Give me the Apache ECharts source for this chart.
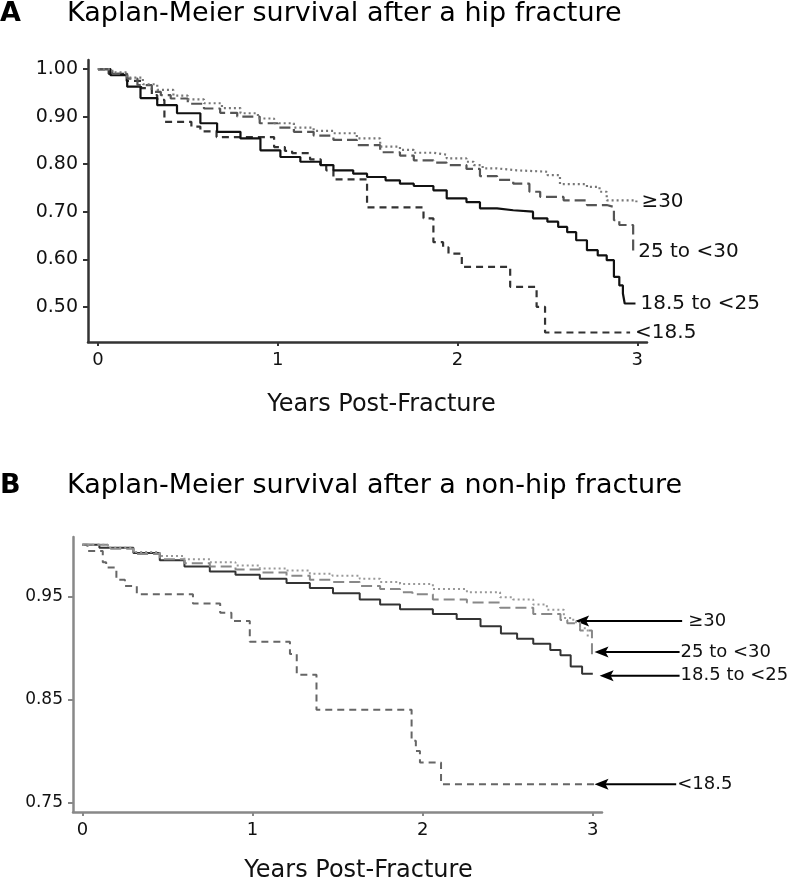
<!DOCTYPE html>
<html><head><meta charset="utf-8">
<script src="https://cdn.jsdelivr.net/npm/echarts@6/dist/echarts.min.js"></script>
<style>html,body{margin:0;padding:0;background:#fff}#c{width:791px;height:884px}</style>
</head><body><div id="c"></div><script>
// ---------- data (years post-fracture, survival probability) ----------
const seriesNames = ['<18.5', '18.5 to <25', '25 to <30', '≥30'];
const xTicks = [0, 1, 2, 3];
const yTicksA = [0.5, 0.6, 0.7, 0.8, 0.9, 1.0];
const yTicksB = [0.75, 0.85, 0.95];

// Panel A: hip fracture
const hipUnder185 = [[0,1],[0.06,0.99],[0.16,0.975],[0.24,0.96],[0.30,0.945],[0.33,0.935],[0.37,0.889],[0.52,0.879],[0.57,0.869],[0.66,0.857],[0.98,0.836],[1.04,0.828],[1.08,0.823],[1.18,0.81],[1.24,0.798],[1.27,0.787],[1.31,0.768],[1.497,0.709],[1.811,0.686],[1.866,0.636],[1.92,0.625],[1.95,0.612],[2.024,0.584],[2.293,0.542],[2.44,0.50],[2.487,0.446],[2.96,0.446]];
const hipNormal = [[0,1],[0.07,0.987],[0.163,0.963],[0.237,0.939],[0.33,0.924],[0.44,0.907],[0.57,0.886],[0.663,0.868],[0.793,0.854],[0.904,0.829],[1.015,0.815],[1.126,0.805],[1.237,0.798],[1.31,0.787],[1.42,0.78],[1.497,0.773],[1.60,0.766],[1.68,0.759],[1.757,0.754],[1.866,0.745],[1.94,0.728],[2.05,0.72],[2.125,0.707],[2.22,0.703],[2.31,0.70],[2.42,0.686],[2.50,0.679],[2.56,0.668],[2.61,0.657],[2.66,0.64],[2.72,0.619],[2.78,0.608],[2.83,0.598],[2.87,0.563],[2.90,0.545],[2.92,0.528],[2.93,0.507],[2.99,0.507]];
const hipOver = [[0,1],[0.08,0.99],[0.163,0.98],[0.22,0.966],[0.30,0.952],[0.35,0.945],[0.405,0.938],[0.50,0.927],[0.59,0.917],[0.68,0.908],[0.775,0.90],[0.90,0.886],[1.0,0.877],[1.09,0.868],[1.2,0.86],[1.31,0.851],[1.44,0.840],[1.57,0.825],[1.68,0.818],[1.757,0.808],[1.866,0.803],[1.94,0.798],[2.05,0.79],[2.125,0.775],[2.22,0.767],[2.31,0.759],[2.40,0.742],[2.46,0.731],[2.59,0.724],[2.72,0.714],[2.83,0.71],[2.87,0.682],[2.90,0.672],[2.977,0.615]];
const hipObese = [[0,1],[0.08,0.993],[0.16,0.982],[0.25,0.968],[0.33,0.956],[0.42,0.944],[0.50,0.936],[0.59,0.928],[0.69,0.918],[0.793,0.907],[0.89,0.896],[0.98,0.886],[1.09,0.877],[1.20,0.870],[1.31,0.865],[1.44,0.854],[1.57,0.837],[1.68,0.830],[1.757,0.824],[1.866,0.82],[1.94,0.812],[2.05,0.805],[2.09,0.798],[2.14,0.791],[2.22,0.787],[2.33,0.784],[2.50,0.777],[2.57,0.758],[2.72,0.752],[2.79,0.742],[2.83,0.724],[2.995,0.72]];

// Panel B: non-hip fracture
const nonHipUnder185 = [[0,1],[0.03,0.994],[0.12,0.983],[0.14,0.978],[0.20,0.966],[0.25,0.96],[0.32,0.952],[0.65,0.943],[0.81,0.934],[0.876,0.926],[0.984,0.906],[1.22,0.894],[1.26,0.874],[1.376,0.84],[1.935,0.81],[1.96,0.80],[1.984,0.789],[2.108,0.768],[3.02,0.768]];
const nonHipNormal = [[0,1],[0.10,0.997],[0.30,0.992],[0.455,0.985],[0.60,0.979],[0.749,0.974],[0.9,0.971],[1.043,0.967],[1.2,0.963],[1.337,0.958],[1.473,0.953],[1.63,0.947],[1.75,0.942],[1.867,0.9375],[2.06,0.933],[2.20,0.928],[2.34,0.921],[2.46,0.914],[2.555,0.909],[2.65,0.904],[2.75,0.898],[2.81,0.893],[2.87,0.882],[2.937,0.875],[3.0,0.875]];
const nonHipOver = [[0,1],[0.15,0.996],[0.30,0.991],[0.455,0.986],[0.60,0.982],[0.749,0.979],[0.9,0.976],[1.043,0.973],[1.2,0.97],[1.337,0.966],[1.47,0.964],[1.63,0.96],[1.75,0.957],[1.867,0.954],[1.94,0.952],[2.06,0.947],[2.26,0.944],[2.455,0.939],[2.65,0.933],[2.81,0.927],[2.85,0.924],[2.925,0.917],[2.995,0.89]];
const nonHipObese = [[0,1],[0.15,0.997],[0.30,0.993],[0.455,0.989],[0.60,0.986],[0.75,0.983],[0.9,0.98],[1.043,0.977],[1.2,0.975],[1.337,0.972],[1.47,0.97],[1.63,0.967],[1.75,0.964],[1.867,0.962],[2.06,0.957],[2.26,0.954],[2.455,0.949],[2.53,0.947],[2.65,0.942],[2.73,0.937],[2.83,0.929],[2.885,0.925],[2.925,0.919],[2.97,0.911]];

// Panel B arrow annotations: [label, arrow head (years, survival), arrow tail (years)]
const annotB = [
  ['≥30', 2.896, 0.926, 3.525],
  ['25 to <30', 3.01, 0.896, 3.51],
  ['18.5 to <25', 3.04, 0.873, 3.51],
  ['<18.5', 3.01, 0.768, 3.49]
];

// ---------- chart ----------
const FONT = 'DejaVu Sans';
const chart = echarts.init(document.getElementById('c'), null, {renderer: 'canvas'});

function xAxisCfg(grid, col, gap, shift) {
  return {
    type: 'value', gridIndex: grid, min: -0.055, max: 3.054,
    splitLine: {show: false},
    axisLine: {show: true, onZero: false, lineStyle: {color: col, width: 2.5}},
    axisTick: {show: true, customValues: xTicks, length: 4, lineStyle: {color: col, width: 2}},
    axisLabel: {customValues: xTicks, fontSize: 18, color: '#111', margin: 9, fontFamily: FONT},
    name: 'Years Post-Fracture', nameLocation: 'middle', nameGap: gap,
    nameTextStyle: {fontSize: 24, color: '#111', fontFamily: FONT, padding: [0, 0, 0, shift]}
  };
}
function yAxisCfg(grid, col, min, max, ticks, fs) {
  return {
    type: 'value', gridIndex: grid, min: min, max: max,
    splitLine: {show: false},
    axisLine: {show: true, onZero: false, lineStyle: {color: col, width: 2.5}},
    axisTick: {show: true, customValues: ticks, length: 5, lineStyle: {color: col, width: 2}},
    axisLabel: {customValues: ticks, fontSize: fs, color: '#111', margin: 10, fontFamily: FONT,
      formatter: v => v.toFixed(2)}
  };
}
function km(name, data, xi, color, type, width, endLabel) {
  return {
    name: name, type: 'line', xAxisIndex: xi, yAxisIndex: xi, data: data,
    step: 'end', symbol: 'none', silent: true,
    lineStyle: {color: color, width: width, type: type},
    endLabel: endLabel ? {show: true, formatter: name, fontSize: 20, color: '#111', fontFamily: FONT, distance: 5} : {show: false}
  };
}
const titleStyle = (bold) => ({fontSize: 27, fontWeight: bold ? 'bold' : 'normal', color: '#000', fontFamily: FONT});

chart.setOption({
  animation: false,
  backgroundColor: '#fff',
  title: [
    {text: 'A', left: 0, top: 0, padding: 0, textStyle: titleStyle(true)},
    {text: 'Kaplan-Meier survival after a hip fracture', left: 67, top: 0, padding: 0, textStyle: titleStyle(false)},
    {text: 'B', left: 0, top: 472, padding: 0, textStyle: titleStyle(true)},
    {text: 'Kaplan-Meier survival after a non-hip fracture', left: 67, top: 472, padding: 0, textStyle: titleStyle(false)}
  ],
  grid: [
    {left: 88, top: 60, width: 559, height: 282},
    {left: 73, top: 537, width: 529, height: 278}
  ],
  xAxis: [xAxisCfg(0, '#333', 51, 28), xAxisCfg(1, '#888', 47, 42)],
  yAxis: [yAxisCfg(0, '#333', 0.426, 1.019, yTicksA, 19), yAxisCfg(1, '#888', 0.741, 1.0075, yTicksB, 17)],
  series: [
    km(seriesNames[0], hipUnder185, 0, '#333', [7, 5], 2.2, true),
    km(seriesNames[1], hipNormal, 0, '#111', 'solid', 2.2, true),
    km(seriesNames[2], hipOver, 0, '#555', [11, 5], 2.2, true),
    km(seriesNames[3], hipObese, 0, '#777', [2, 3], 2.2, true),
    km(seriesNames[0], nonHipUnder185, 1, '#666', [7, 5], 2, false),
    km(seriesNames[1], nonHipNormal, 1, '#333', 'solid', 2, false),
    km(seriesNames[2], nonHipOver, 1, '#888', [11, 5], 2, false),
    km(seriesNames[3], nonHipObese, 1, '#999', [2, 3], 2, false)
  ]
});

// arrows + labels for panel B, positioned through the grid's own scales
const gfx = [];
annotB.forEach(a => {
  const head = chart.convertToPixel({gridIndex: 1}, [a[1], a[2]]);
  const tail = chart.convertToPixel({gridIndex: 1}, [a[3], a[2]]);
  const y = head[1];
  gfx.push({type: 'line', shape: {x1: head[0] + 10, y1: y, x2: tail[0], y2: y}, style: {stroke: '#000', lineWidth: 2}});
  gfx.push({type: 'polygon', shape: {points: [[head[0], y], [head[0] + 14, y - 5.5], [head[0] + 11, y], [head[0] + 14, y + 5.5]]}, style: {fill: '#000'}});
  gfx.push({type: 'text', x: tail[0] + (a[0] === '≥30' ? 6 : 1), y: y, style: {text: a[0], fontSize: 18, fill: '#111', fontFamily: FONT, verticalAlign: 'middle', align: 'left'}});
});
chart.setOption({graphic: gfx});
</script></body></html>
